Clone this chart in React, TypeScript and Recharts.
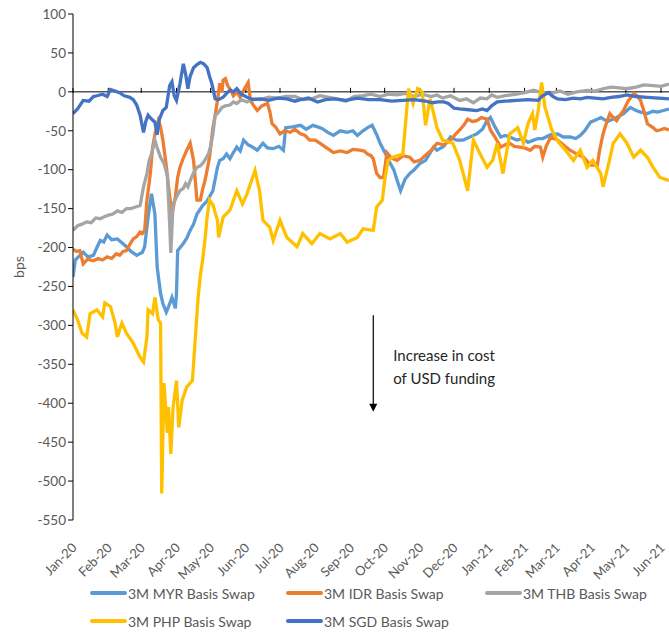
import { Label, Legend, Line, LineChart, ReferenceLine, XAxis, YAxis } from 'recharts';

// days counted from 1 Jan 2020
const monthTicks = [0, 31, 60, 91, 121, 152, 182, 213, 244, 274, 305, 335, 366, 397, 425, 456, 486, 517];
const monthLabels = [
  'Jan-20', 'Feb-20', 'Mar-20', 'Apr-20', 'May-20', 'Jun-20', 'Jul-20', 'Aug-20', 'Sep-20',
  'Oct-20', 'Nov-20', 'Dec-20', 'Jan-21', 'Feb-21', 'Mar-21', 'Apr-21', 'May-21', 'Jun-21',
];
const yTicks = [100, 50, 0, -50, -100, -150, -200, -250, -300, -350, -400, -450, -500, -550];

const myrDays = [0, 2, 6, 9, 13, 18, 21, 24, 27, 30, 34, 39, 43, 47, 51, 56, 61, 63, 66, 69, 72, 74, 77, 79, 82, 84, 87, 90, 91, 92, 97, 100, 103, 106, 109, 114, 118, 123, 127, 129, 132, 135, 138, 141, 144, 147, 150, 154, 158, 162, 167, 171, 176, 181, 185, 187, 193, 200, 205, 211, 215, 219, 224, 229, 235, 241, 246, 250, 255, 259, 263, 267, 270, 275, 279, 282, 285, 288, 292, 296, 300, 305, 310, 317, 320, 326, 332, 337, 343, 349, 355, 360, 364, 367, 371, 376, 380, 384, 390, 396, 400, 405, 409, 413, 420, 426, 431, 437, 442, 446, 450, 455, 460, 464, 470, 478, 484, 490, 495, 499, 505, 510, 514, 519, 524];
const myrValues = [-238, -216, -210, -206, -212, -210, -200, -191, -193, -184, -190, -189, -194, -199, -205, -210, -206, -199, -161, -131, -157, -225, -259, -272, -283, -276, -264, -278, -259, -204, -195, -188, -178, -170, -157, -146, -140, -127, -97, -88, -86, -80, -86, -78, -71, -76, -62, -68, -71, -75, -66, -72, -73, -70, -75, -46, -45, -43, -48, -43, -45, -47, -52, -56, -50, -52, -50, -56, -50, -46, -43, -55, -66, -80, -92, -100, -114, -127, -112, -105, -100, -92, -88, -71, -75, -70, -58, -62, -62, -58, -54, -48, -37, -33, -45, -58, -56, -58, -62, -60, -65, -62, -60, -60, -55, -54, -58, -58, -60, -56, -50, -39, -36, -33, -38, -33, -28, -20, -24, -26, -28, -25, -26, -24, -22];

const idrDays = [0, 3, 6, 9, 13, 18, 22, 26, 30, 34, 38, 41, 44, 47, 50, 53, 56, 59, 61, 63, 65, 68, 70, 72, 75, 77, 79, 82, 84, 87, 90, 92, 94, 97, 100, 103, 106, 109, 112, 114, 116, 118, 120, 123, 125, 127, 129, 131, 132, 134, 136, 138, 141, 144, 147, 150, 154, 156, 159, 162, 166, 171, 173, 175, 178, 182, 186, 191, 195, 200, 204, 208, 213, 217, 223, 229, 235, 241, 246, 252, 256, 259, 262, 264, 267, 270, 273, 276, 280, 285, 290, 296, 300, 305, 311, 315, 320, 326, 332, 336, 340, 344, 347, 351, 355, 359, 364, 367, 371, 376, 380, 384, 388, 393, 397, 402, 406, 411, 413, 416, 420, 423, 426, 431, 437, 443, 449, 455, 461, 463, 466, 469, 472, 475, 478, 481, 484, 488, 493, 496, 499, 502, 505, 508, 510, 513, 516, 520, 524];
const idrValues = [-202, -205, -204, -221, -215, -217, -214, -216, -212, -214, -208, -210, -205, -204, -196, -189, -186, -180, -182, -178, -139, -105, -71, -55, -37, -45, -62, -95, -122, -157, -135, -110, -97, -85, -75, -66, -88, -139, -139, -125, -114, -100, -84, -46, -30, -11, 11, 0, 15, 17, 8, 4, -5, 0, -7, 2, 12, -11, -18, -24, -18, -15, -25, -41, -45, -54, -50, -52, -48, -54, -56, -62, -62, -66, -72, -78, -76, -78, -74, -75, -76, -80, -82, -86, -105, -110, -110, -78, -85, -88, -82, -84, -90, -88, -80, -75, -66, -68, -62, -55, -49, -42, -35, -38, -37, -33, -35, -49, -58, -71, -68, -66, -70, -71, -72, -75, -70, -71, -84, -70, -58, -60, -62, -68, -75, -80, -84, -94, -94, -75, -54, -40, -28, -33, -37, -30, -24, -12, -2, -5, -11, -25, -41, -44, -46, -50, -49, -47, -49];

const thbDays = [0, 4, 8, 12, 16, 20, 24, 28, 32, 35, 39, 43, 47, 51, 55, 59, 62, 65, 67, 69, 72, 74, 77, 80, 83, 85, 86, 88, 91, 94, 97, 99, 101, 103, 106, 109, 112, 115, 117, 119, 121, 123, 125, 127, 129, 131, 134, 138, 141, 144, 148, 153, 158, 165, 172, 180, 187, 195, 202, 210, 217, 225, 232, 240, 247, 255, 262, 270, 277, 285, 292, 300, 307, 315, 320, 325, 332, 340, 346, 352, 358, 364, 368, 373, 380, 390, 397, 405, 412, 420, 428, 435, 443, 452, 459, 466, 473, 480, 487, 495, 502, 510, 517, 524];
const thbValues = [-178, -172, -170, -167, -168, -162, -163, -160, -158, -157, -153, -155, -150, -150, -148, -146, -122, -105, -88, -80, -62, -72, -84, -92, -108, -170, -207, -144, -135, -127, -124, -118, -122, -114, -104, -97, -95, -90, -85, -80, -70, -54, -30, -28, -24, -20, -18, -17, -13, -15, -10, -13, -9, -10, -7, -8, -6, -6, -10, -9, -5, -7, -9, -12, -6, -5, -3, -6, -3, -4, -2, -6, -3, -6, -4, -8, -5, -11, -9, -14, -8, -9, -4, -7, -5, -3, -1, 2, -1, -2, 1, -3, 0, 2, 1, 4, 6, 5, 4, 6, 9, 8, 7, 10];

const phpDays = [0, 4, 8, 12, 15, 21, 26, 28, 33, 37, 39, 43, 47, 53, 59, 62, 65, 66, 70, 72, 75, 77, 78, 80, 83, 84, 86, 88, 91, 93, 96, 100, 105, 107, 110, 112, 114, 116, 118, 120, 123, 127, 128, 132, 138, 144, 149, 153, 160, 164, 167, 173, 176, 182, 188, 197, 202, 210, 217, 226, 235, 241, 250, 255, 264, 267, 272, 274, 277, 281, 290, 295, 299, 303, 307, 310, 314, 320, 325, 334, 340, 347, 352, 358, 364, 369, 373, 378, 384, 391, 396, 400, 404, 406, 409, 412, 415, 421, 427, 433, 440, 446, 452, 457, 464, 466, 471, 475, 481, 487, 493, 499, 505, 510, 516, 524];
const phpValues = [-280, -293, -310, -315, -285, -280, -289, -271, -276, -297, -315, -297, -310, -323, -341, -347, -315, -280, -285, -264, -293, -297, -516, -374, -438, -405, -465, -405, -371, -431, -396, -379, -371, -328, -264, -235, -216, -190, -160, -139, -145, -165, -187, -161, -152, -127, -144, -131, -101, -127, -165, -174, -191, -165, -187, -199, -182, -195, -182, -189, -182, -193, -187, -176, -178, -148, -139, -114, -88, -84, -80, 4, -15, 4, 0, -43, -9, -46, -62, -66, -88, -127, -62, -80, -97, -88, -66, -105, -54, -46, -66, -41, -28, -49, -24, 12, -20, -49, -65, -75, -88, -75, -97, -88, -105, -122, -92, -66, -54, -66, -84, -75, -84, -97, -110, -114];

const sgdDays = [0, 4, 9, 14, 18, 21, 26, 30, 33, 37, 41, 45, 50, 53, 56, 59, 62, 64, 66, 69, 72, 74, 76, 79, 82, 85, 87, 89, 91, 94, 97, 99, 101, 103, 106, 109, 112, 115, 118, 120, 122, 125, 128, 132, 135, 138, 141, 144, 148, 153, 158, 165, 172, 180, 188, 195, 200, 207, 215, 222, 230, 240, 250, 260, 270, 280, 290, 300, 310, 316, 321, 326, 330, 335, 340, 348, 355, 360, 364, 368, 373, 380, 390, 400, 409, 412, 418, 422, 426, 433, 440, 446, 452, 459, 466, 473, 480, 487, 495, 505, 515, 524];
const sgdValues = [-28, -22, -11, -12, -6, -5, -3, -6, 3, 1, -1, -5, -7, -10, -17, -30, -52, -38, -30, -35, -39, -55, -35, -24, -20, 8, 13, -5, -11, 10, 36, 23, 4, 20, 31, 35, 38, 36, 31, 20, 11, -9, -10, -7, -2, 2, 0, 4, -3, -7, -10, -9, -11, -8, -9, -12, -10, -8, -13, -10, -9, -11, -8, -10, -10, -12, -11, -10, -12, -14, -13, -13, -15, -21, -22, -23, -24, -22, -24, -18, -13, -12, -11, -10, -11, -6, -1, -6, -9, -10, -8, -9, -7, -8, -9, -7, -6, -4, -6, -7, -8, -9];

const toPoints = (days: number[], values: number[]) => days.map((day, i) => ({ day, value: values[i] }));

const series = [
  { key: 'myr', name: '3M MYR Basis Swap', color: '#5b9bd5', data: toPoints(myrDays, myrValues) },
  { key: 'idr', name: '3M IDR Basis Swap', color: '#ed7d31', data: toPoints(idrDays, idrValues) },
  { key: 'thb', name: '3M THB Basis Swap', color: '#a5a5a5', data: toPoints(thbDays, thbValues) },
  { key: 'php', name: '3M PHP Basis Swap', color: '#ffc000', data: toPoints(phpDays, phpValues) },
  { key: 'sgd', name: '3M SGD Basis Swap', color: '#4472c4', data: toPoints(sgdDays, sgdValues) },
];

const FONT = 'Lato, "Open Sans", sans-serif';
const TEXT = '#595959';
const DOMAIN_END = 524;

const MonthTick = ({ x, y, index }: any) => (
  <text
    x={x + 1}
    y={y + 17}
    textAnchor="end"
    dominantBaseline="central"
    transform={`rotate(-45, ${x + 1}, ${y + 17})`}
    fill={TEXT}
    fontSize={13}
  >
    {monthLabels[index]}
  </text>
);

// zero line of the chart, with the small month tick marks sitting on it
const ZeroAxis = ({ x1, x2, y1 }: any) => (
  <g>
    <line x1={x1} y1={y1} x2={x2} y2={y1} stroke="#000" strokeWidth={1} />
    {monthTicks.map((t) => {
      const tx = x1 + ((x2 - x1) * t) / DOMAIN_END;
      return <line key={t} x1={tx} x2={tx} y1={y1 - 4} y2={y1 + 1} stroke="#000" strokeWidth={1} />;
    })}
  </g>
);

const Arrow = ({ x1, y1, y2 }: any) => (
  <g>
    <line x1={x1} y1={y1} x2={x1} y2={y2 - 6} stroke="#000" strokeWidth={1.2} />
    <path d={`M${x1 - 4},${y2 - 8} L${x1 + 4},${y2 - 8} L${x1},${y2} Z`} fill="#000" />
    <text x={x1 + 20} y={y1 + 40} fontSize={15} fill="#262626" dominantBaseline="central">
      Increase in cost
    </text>
    <text x={x1 + 20} y={y1 + 63} fontSize={15} fill="#262626" dominantBaseline="central">
      of USD funding
    </text>
  </g>
);

const legendCols = [90, 286, 485];

const SwapLegend = () => (
  <div style={{ position: 'relative', width: 669, height: 60, fontFamily: FONT, fontSize: 14, color: TEXT }}>
    {series.map((s, i) => (
      <div
        key={s.key}
        style={{
          position: 'absolute',
          left: legendCols[i % 3],
          top: 10 + Math.floor(i / 3) * 28,
          height: 20,
          display: 'flex',
          alignItems: 'center',
          whiteSpace: 'nowrap',
        }}
      >
        <span style={{ display: 'inline-block', width: 37, height: 4, background: s.color, borderRadius: 2 }} />
        <span style={{ marginLeft: 1 }}>{s.name}</span>
      </div>
    ))}
  </div>
);

export default function App() {
  return (
    <div style={{ position: 'absolute', left: 0, top: 0, width: 669, height: 633, background: '#fff' }}>
      <LineChart
        width={669}
        height={633}
        margin={{ top: 14, right: 0, bottom: 0, left: 0 }}
        style={{ fontFamily: FONT }}
      >
        <XAxis
          dataKey="day"
          type="number"
          domain={[0, DOMAIN_END]}
          ticks={monthTicks}
          interval={0}
          tick={<MonthTick />}
          axisLine={false}
          tickLine={false}
          height={53}
          allowDataOverflow
        />
        <YAxis
          type="number"
          domain={[-550, 100]}
          ticks={yTicks}
          interval={0}
          width={73}
          tick={{ fill: TEXT, fontSize: 13.5 }}
          tickSize={5}
          axisLine={{ stroke: '#000' }}
          tickLine={{ stroke: '#000' }}
        >
          <Label
            content={({ viewBox }: any) => (
              <text
                x={viewBox.x + 18}
                y={viewBox.y + viewBox.height / 2}
                transform={`rotate(-90, ${viewBox.x + 18}, ${viewBox.y + viewBox.height / 2})`}
                textAnchor="middle"
                dominantBaseline="central"
                fill={TEXT}
                fontSize={14}
              >
                bps
              </text>
            )}
          />
        </YAxis>
        <ReferenceLine
          segment={[
            { x: 0, y: 0 },
            { x: DOMAIN_END, y: 0 },
          ]}
          shape={<ZeroAxis />}
        />
        {series.map((s) => (
          <Line
            key={s.key}
            data={s.data}
            dataKey="value"
            name={s.name}
            stroke={s.color}
            strokeWidth={3.3}
            dot={false}
            type="linear"
            isAnimationActive={false}
          />
        ))}
        <ReferenceLine
          segment={[
            { x: 264, y: -287 },
            { x: 264, y: -411 },
          ]}
          shape={<Arrow />}
        />
        <Legend verticalAlign="bottom" height={60} content={() => <SwapLegend />} />
      </LineChart>
    </div>
  );
}
